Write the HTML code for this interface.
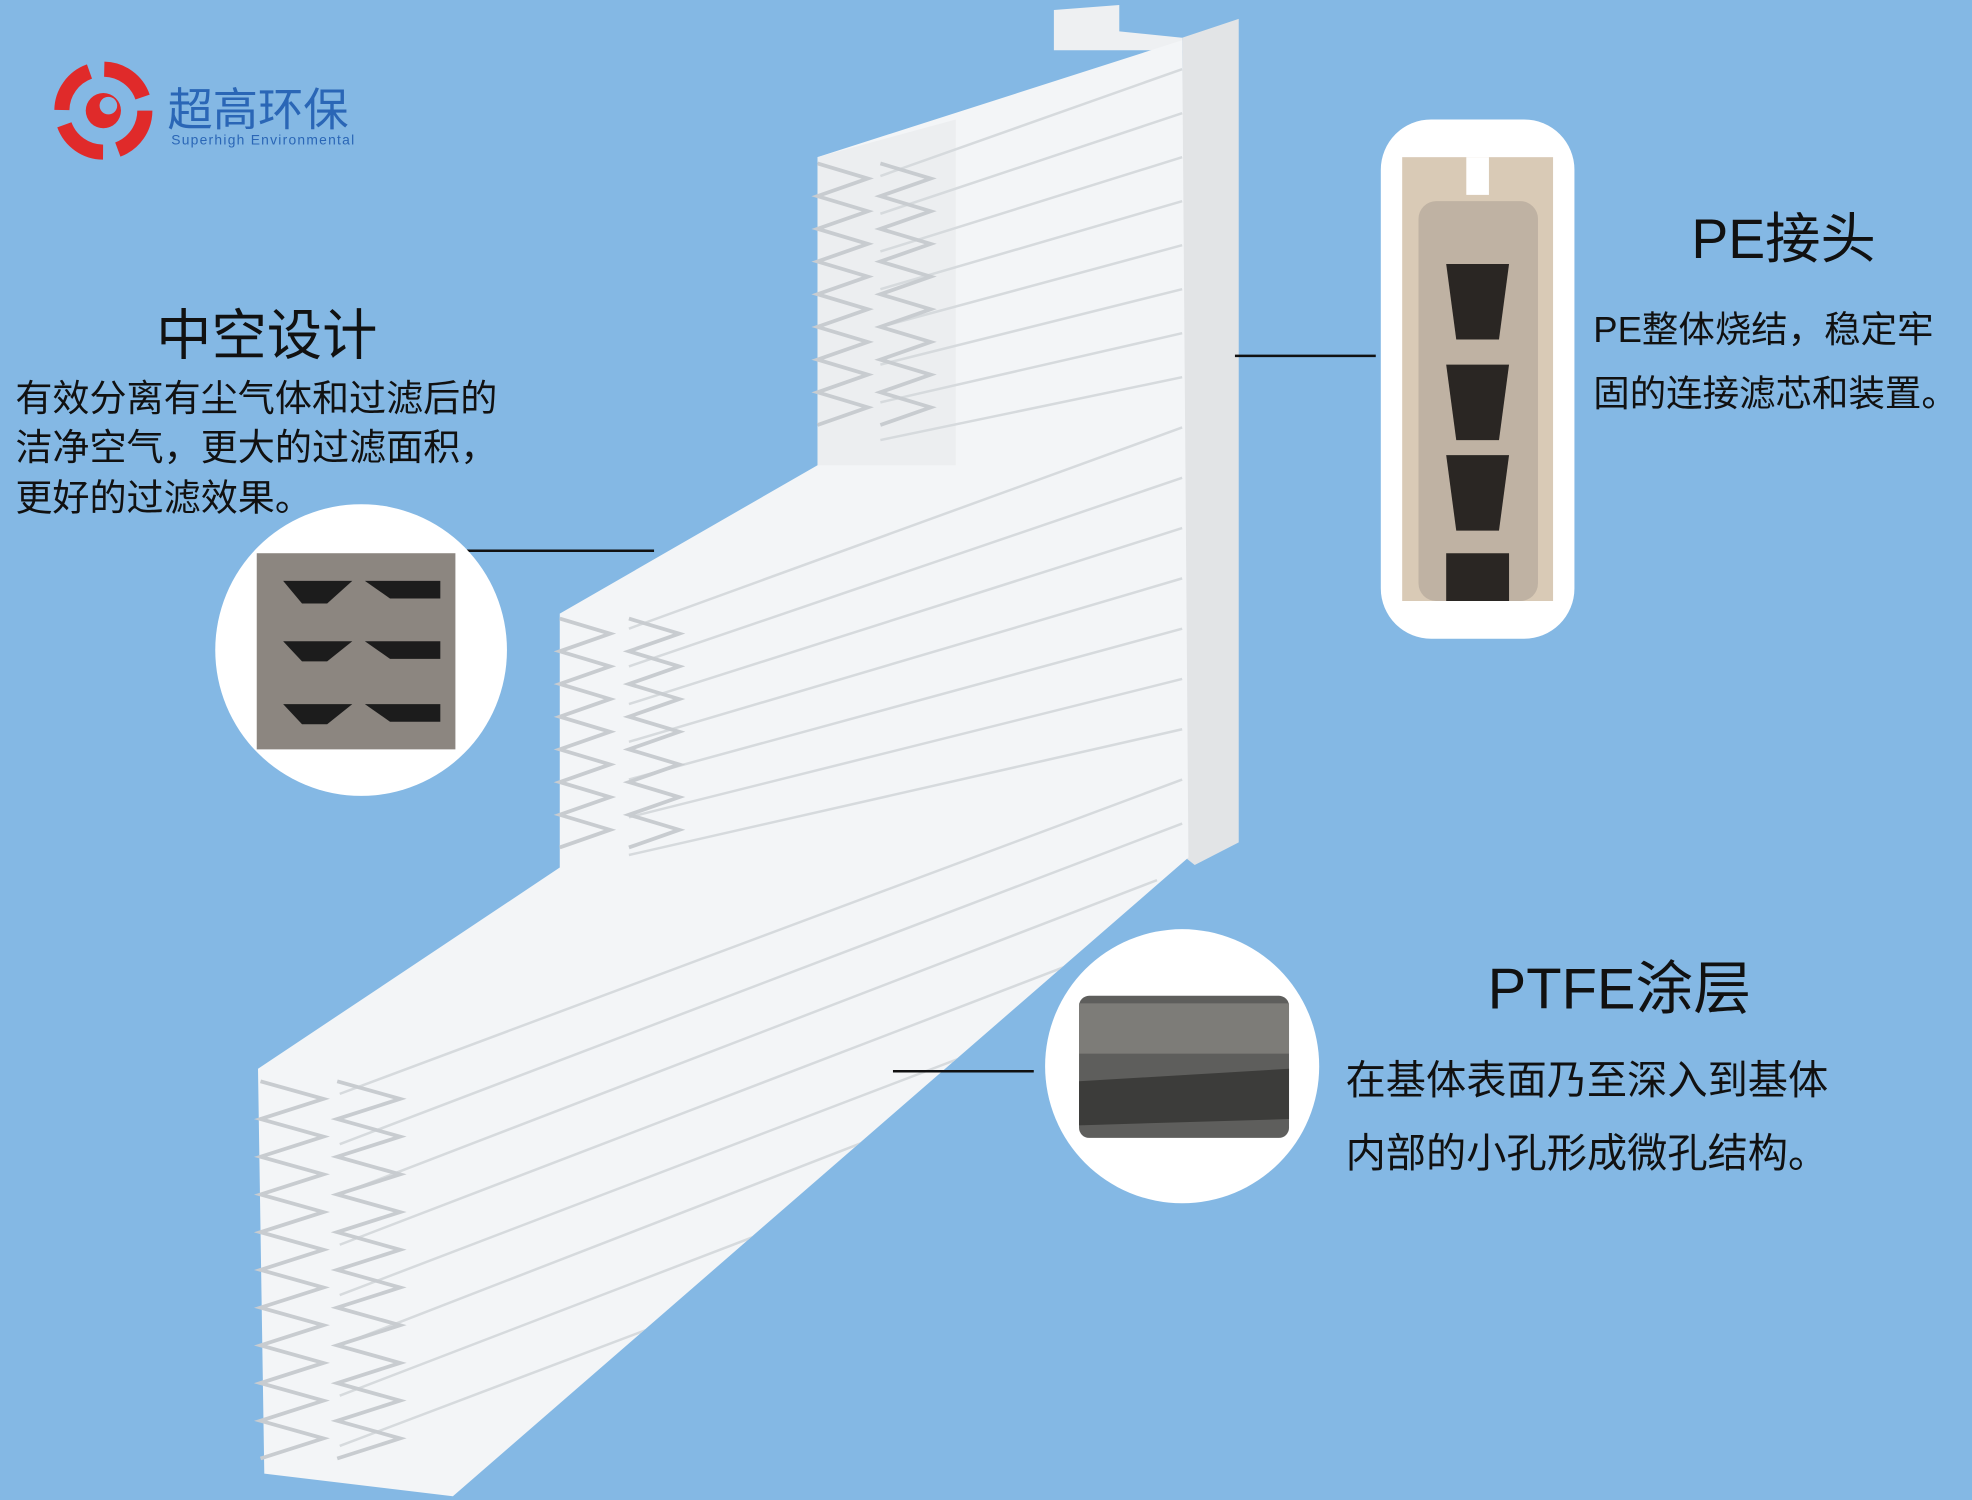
<!DOCTYPE html>
<html><head><meta charset="utf-8"><style>
html,body{margin:0;padding:0;background:#84b8e4;}
svg{display:block}
text{font-family:"Liberation Sans","Noto Sans CJK SC",sans-serif;}
</style></head><body>
<svg width="1972" height="1500" viewBox="0 0 1568 1193" xmlns="http://www.w3.org/2000/svg">
<defs>
<clipPath id="bc"><polygon points="650,125 940,32 945,682 360,1190 210,1172 205,850 445,690 445,488 650,370"/></clipPath>
</defs>
<rect width="1568" height="1193" fill="#84b8e4"/>
<g>
<circle cx="82" cy="88" r="33" fill="none" stroke="#e02a2a" stroke-width="12" stroke-dasharray="40 12"/>
<circle cx="82" cy="88" r="14" fill="#e02a2a"/>
<circle cx="86" cy="84" r="7" fill="#84b8e4"/>
</g>
<text x="133" y="100" font-size="36" fill="#2a66b6">超高环保</text>
<text x="136" y="115" font-size="11" fill="#2a66b6" letter-spacing="1">Superhigh Environmental</text>

<polygon points="940,30 985,15 985,670 950,688 940,680" fill="#e2e4e6"/>
<polygon points="838,8 890,4 890,25 940,30 940,40 838,40" fill="#eef0f2"/>
<polygon points="650,125 940,32 945,682 360,1190 210,1172 205,850 445,690 445,488 650,370" fill="#f3f5f7"/>
<g clip-path="url(#bc)">
<polygon points="650,125 760,95 760,370 650,370" fill="#eceef0"/>
<g stroke="#d6dadd" stroke-width="2">
<line x1="700" y1="140" x2="940" y2="55"/>
<line x1="700" y1="170" x2="940" y2="90"/>
<line x1="700" y1="200" x2="940" y2="125"/>
<line x1="700" y1="230" x2="940" y2="160"/>
<line x1="700" y1="260" x2="940" y2="195"/>
<line x1="700" y1="290" x2="940" y2="230"/>
<line x1="700" y1="320" x2="940" y2="265"/>
<line x1="700" y1="350" x2="940" y2="300"/>
<line x1="500" y1="500" x2="940" y2="340"/>
<line x1="500" y1="530" x2="940" y2="380"/>
<line x1="500" y1="560" x2="940" y2="420"/>
<line x1="500" y1="590" x2="940" y2="460"/>
<line x1="500" y1="620" x2="940" y2="500"/>
<line x1="500" y1="650" x2="940" y2="540"/>
<line x1="500" y1="680" x2="940" y2="580"/>
<line x1="270" y1="870" x2="940" y2="620"/>
<line x1="270" y1="910" x2="940" y2="655"/>
<line x1="270" y1="950" x2="920" y2="700"/>
<line x1="270" y1="990" x2="870" y2="760"/>
<line x1="270" y1="1030" x2="820" y2="820"/>
<line x1="270" y1="1070" x2="760" y2="880"/>
<line x1="270" y1="1110" x2="700" y2="945"/>
<line x1="270" y1="1150" x2="640" y2="1010"/>
</g>
</g>
<g fill="none" stroke="#c8ccd0" stroke-width="3">
<path d="M650,130 l40,12 -40,14 40,12 -40,14 40,12 -40,14 40,12 -40,14 40,12 -40,14 40,12 -40,14 40,12 -40,14 40,12 -40,14"/>
<path d="M700,130 l40,12 -40,14 40,12 -40,14 40,12 -40,14 40,12 -40,14 40,12 -40,14 40,12 -40,14 40,12 -40,14 40,12 -40,14"/>
<path d="M445,492 l40,12 -40,14 40,12 -40,14 40,12 -40,14 40,12 -40,14 40,12 -40,14 40,12 -40,14 40,12 -40,14"/>
<path d="M500,492 l40,12 -40,14 40,12 -40,14 40,12 -40,14 40,12 -40,14 40,12 -40,14 40,12 -40,14 40,12 -40,14"/>
<path d="M207,860 l50,14 -50,16 50,14 -50,16 50,14 -50,16 50,14 -50,16 50,14 -50,16 50,14 -50,16 50,14 -50,16 50,14 -50,16 50,14 -50,16 50,14 -50,16"/>
<path d="M268,860 l50,14 -50,16 50,14 -50,16 50,14 -50,16 50,14 -50,16 50,14 -50,16 50,14 -50,16 50,14 -50,16 50,14 -50,16 50,14 -50,16 50,14 -50,16"/>
</g>

<g stroke="#111" stroke-width="2">
<line x1="368" y1="438" x2="520" y2="438"/>
<line x1="982" y1="283" x2="1094" y2="283"/>
<line x1="710" y1="852" x2="822" y2="852"/>
</g>

<circle cx="287" cy="517" r="116" fill="#fff"/>
<rect x="204" y="440" width="158" height="156" fill="#8c8680"/>
<g fill="#1c1c1c">
<path d="M225,462 h55 l-20,18 h-20z"/><path d="M290,462 h60 v14 h-40z"/>
<path d="M225,510 h55 l-20,16 h-20z"/><path d="M290,510 h60 v14 h-40z"/>
<path d="M225,560 h55 l-20,16 h-20z"/><path d="M290,560 h60 v14 h-40z"/>
</g>

<rect x="1098" y="95" width="154" height="413" rx="40" fill="#fff"/>
<rect x="1115" y="125" width="120" height="353" fill="#d9cab6"/>
<rect x="1128" y="160" width="95" height="318" rx="14" fill="#bfb2a3"/>
<g fill="#2a2623">
<path d="M1150,210 h50 l-8,60 h-34z"/>
<path d="M1150,290 h50 l-8,60 h-34z"/>
<path d="M1150,362 h50 l-8,60 h-34z"/>
<path d="M1150,440 h50 v38 h-50z"/>
</g>
<rect x="1166" y="125" width="18" height="30" fill="#fff"/>

<circle cx="940" cy="848" r="109" fill="#fff"/>
<rect x="858" y="792" width="167" height="113" rx="8" fill="#5e5e5c"/>
<polygon points="858,860 1025,850 1025,890 858,895" fill="#3c3c3a"/>
<rect x="858" y="798" width="167" height="40" fill="#7d7c78"/>

<text x="124" y="282" font-size="44" fill="#111">中空设计</text>
<text x="12" y="327" font-size="29.5" fill="#111">有效分离有尘气体和过滤后的</text>
<text x="12" y="366" font-size="29.5" fill="#111">洁净空气，更大的过滤面积，</text>
<text x="12" y="406" font-size="29.5" fill="#111">更好的过滤效果。</text>

<text x="1345" y="205" font-size="44" fill="#111">PE接头</text>
<text x="1267" y="272" font-size="29" fill="#111">PE整体烧结，稳定牢</text>
<text x="1267" y="323" font-size="29" fill="#111">固的连接滤芯和装置。</text>

<text x="1183" y="802" font-size="46" fill="#111">PTFE涂层</text>
<text x="1070" y="870" font-size="32" fill="#111">在基体表面乃至深入到基体</text>
<text x="1070" y="928" font-size="32" fill="#111">内部的小孔形成微孔结构。</text>
</svg>
</body></html>
